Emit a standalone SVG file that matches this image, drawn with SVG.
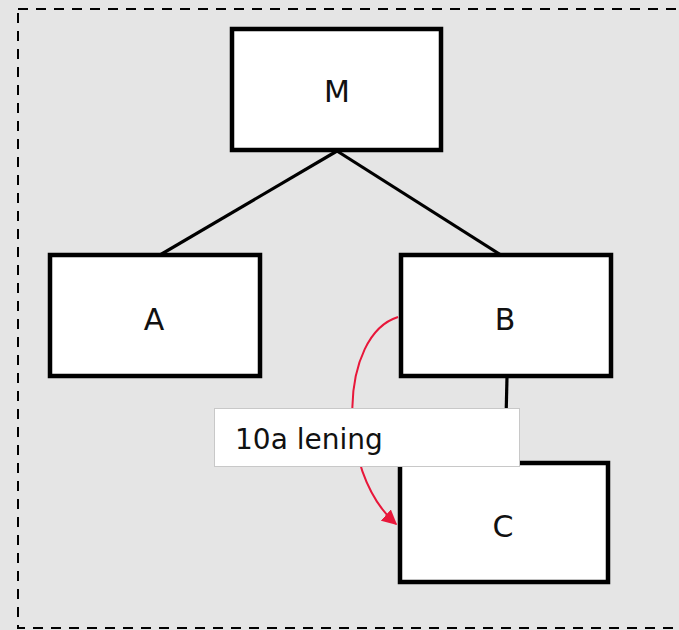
<svg xmlns="http://www.w3.org/2000/svg" width="679" height="630" viewBox="0 0 679 630">
  <style>
    .node rect { fill: #ffffff; stroke: #000000; stroke-width: 4.5; }
    .node text { font-family: "DejaVu Sans", Verdana, sans-serif; font-size: 30px; fill: #111111; text-anchor: middle; }
    .link { stroke: #000000; stroke-width: 3.2; fill: none; }
    .flow { stroke: #e8173a; stroke-width: 2; fill: none; }
  </style>
  <defs>
    <marker id="arrowRed" viewBox="0 0 10 10" refX="9" refY="5" markerWidth="15" markerHeight="15" orient="auto" markerUnits="userSpaceOnUse">
      <path d="M0,0 L10,5 L0,10 Z" fill="#e8173a"/>
    </marker>
  </defs>

  <!-- background and dashed frame -->
  <rect x="0" y="0" width="679" height="630" fill="#e5e5e5"/>
  <rect x="18" y="9" width="720" height="619" fill="none" stroke="#000" stroke-width="2" stroke-dasharray="10 8"/>

  <!-- tree connectors -->
  <g id="connectors">
    <line class="link" x1="337" y1="151" x2="160" y2="255"/>
    <line class="link" x1="337" y1="151" x2="501" y2="255"/>
    <line class="link" x1="507" y1="377" x2="505" y2="462"/>
    <path class="flow" d="M398,317 C340,335 335,470 396,524" marker-end="url(#arrowRed)"/>
  </g>

  <g id="node-M" class="node">
    <rect x="232" y="29" width="209" height="121"/>
    <text x="337" y="102">M</text>
  </g>
  <g id="node-A" class="node">
    <rect x="50" y="255" width="210" height="121"/>
    <text x="154" y="330">A</text>
  </g>
  <g id="node-B" class="node">
    <rect x="401" y="255" width="210" height="121"/>
    <text x="505" y="330">B</text>
  </g>
  <g id="node-C" class="node">
    <rect x="400" y="463" width="208" height="119"/>
    <text x="503" y="537">C</text>
  </g>

  <!-- loan label -->
  <g id="label-lening">
    <rect x="214.5" y="408.5" width="305" height="58" fill="#ffffff" stroke="#c8c8c8" stroke-width="1"/>
    <text x="235" y="449" font-family="DejaVu Sans, Verdana, sans-serif" font-size="28" fill="#111111">10a lening</text>
  </g>
</svg>
